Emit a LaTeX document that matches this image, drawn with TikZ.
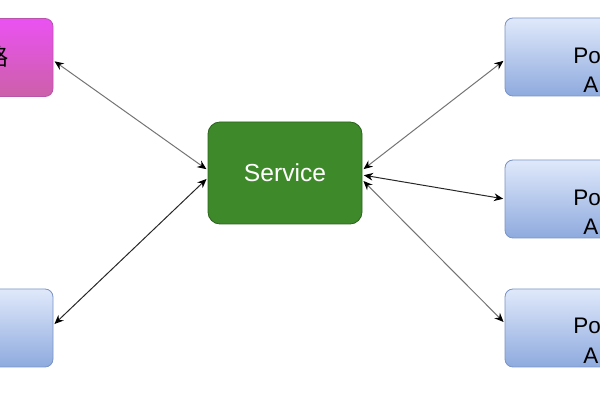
\documentclass[tikz,border=0pt]{standalone}
\usepackage{fontspec}
\setmainfont{Liberation Sans}
\newfontfamily\cjk{Noto Sans CJK SC}
\usepackage{tikz}
\usetikzlibrary{positioning,calc,arrows.meta}

\definecolor{pinktop}{RGB}{234,82,242}
\definecolor{pinkbot}{RGB}{204,96,168}
\definecolor{pinkline}{RGB}{186,84,170}
\definecolor{bluetop}{RGB}{224,233,251}
\definecolor{bluebot}{RGB}{142,170,222}
\definecolor{blueline}{RGB}{122,148,198}
\definecolor{svcgreen}{RGB}{62,138,42}
\definecolor{svcline}{RGB}{44,100,30}

\begin{document}
\begin{tikzpicture}[box/.style={rectangle,rounded corners=0.2cm,minimum width=3.85cm,minimum height=1.95cm,line width=0.6pt},
bluebox/.style={box,draw=blueline,top color=bluetop,bottom color=bluebot},
podtext/.style={anchor=west,inner sep=0pt,font=\fontsize{16}{18}\selectfont},
link/.style={{Stealth[length=6.5pt,width=5.5pt,color=black]}-{Stealth[length=6.5pt,width=5.5pt,color=black]},line width=0.7pt,shorten <=1pt,shorten >=1pt},
lightlink/.style={link,color=black!55},
darklink/.style={link,color=black!85}]

\useasboundingbox (0,0) rectangle (15,-10);
\clip (0,0) rectangle (15,-10);
\fill[white] (0,0) rectangle (15,-10);

% nodes
\node[box,draw=pinkline,top color=pinktop,bottom color=pinkbot](gw) at (-0.6,-1.4375){};
\node[font=\cjk\fontsize{16.5}{18}\selectfont,inner sep=0pt](gwtext) at (-0.08,-1.42){路};
\node[bluebox](client) at (-0.6,-8.2){};

\node[box,minimum height=2.55cm,rounded corners=0.3cm,draw=svcline,fill=svcgreen,text=white,font=\fontsize{17.5}{20}\selectfont](svc) at (7.125,-4.325){Service};

\node[bluebox](poda) at (14.55,-1.425){};
\node[bluebox](podb) at (14.55,-4.975){};
\node[bluebox](podc) at (14.55,-8.2){};

% pod labels
\node[podtext](poda1) at (14.325,-1.4){Po};
\node[podtext](poda2) at (14.575,-2.125){A};
\node[podtext](podb1) at (14.325,-4.95){Po};
\node[podtext](podb2) at (14.575,-5.675){A};
\node[podtext](podc1) at (14.325,-8.15){Po};
\node[podtext](podc2) at (14.575,-8.9){A};

% edges
\draw[lightlink] ([yshift=-0.075cm]gw.east) -- ([yshift=0.075cm]svc.west);
\draw[darklink] ([yshift=0.075cm]client.east) -- ([yshift=-0.125cm]svc.west);
\draw[lightlink] ([yshift=0.075cm]svc.east) -- ([yshift=-0.075cm]poda.west);
\draw[darklink] ([yshift=-0.05cm]svc.east) -- (podb.west);
\draw[lightlink] ([yshift=-0.175cm]svc.east) -- ([yshift=0.125cm]podc.west);
\end{tikzpicture}
\end{document}
